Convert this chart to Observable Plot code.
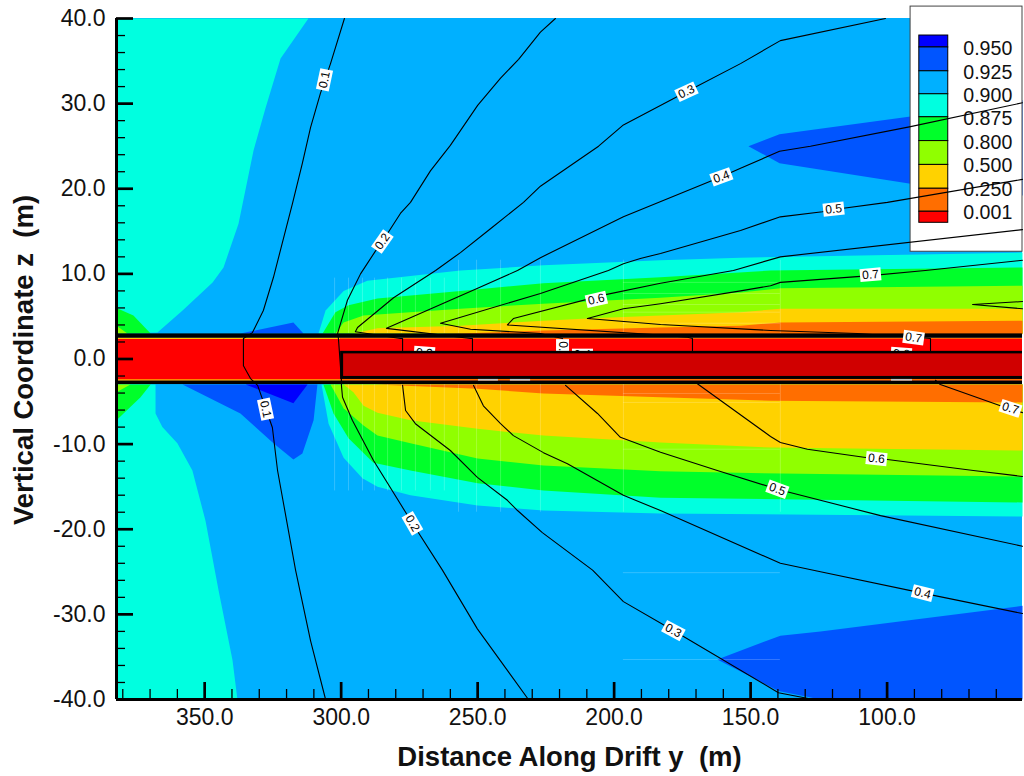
<!DOCTYPE html>
<html><head><meta charset="utf-8">
<style>html,body{margin:0;padding:0;background:#fff}svg text{white-space:pre}</style>
<script src="https://cdn.jsdelivr.net/npm/d3@7"></script>
<script src="https://cdn.jsdelivr.net/npm/@observablehq/plot@0.6"></script>
</head><body><div id="chart"></div>
<script>
const xDomain=[382.3,50.4], zDomain=[-40,40];
const xMajor=[350,300,250,200,150,100];
const xMinor=[380,370,360,340,330,320,310,290,280,270,260,240,230,220,210,190,180,170,160,140,130,120,110,90,80,70,60];
const zMajor=[-40,-30,-20,-10,0,10,20,30,40];
const zMinor=[-38,-36,-34,-32,-28,-26,-24,-22,-18,-16,-14,-12,-8,-6,-4,-2,2,4,6,8,12,14,16,18,22,24,26,28,32,34,36,38];

const legendLevels=["0.950","0.925","0.900","0.875","0.800","0.500","0.250","0.001"];
const legendColors=["#0000ff","#0055ff","#00b0ff","#00ffe0","#00ff2a","#90ff00","#ffd200","#ff6e00","#ff0000"];

// filled contour regions [y, z]
const cyanUpperLeft=[[382.3,40],[312,40],[322.2,35.3],[327.7,29.5],[332.1,24.5],[337.6,15.9],[343.1,10.75],[347.1,9],[358.1,5.7],[367.3,3.1],[382.3,3]];
const cyanLowerLeft=[[382.3,-3],[368,-3],[368,-6.4],[365.5,-8],[360,-9.9],[354.5,-13.1],[349.7,-19],[344.9,-27.2],[339.8,-35.4],[338,-40],[382.3,-40]];
const greenUpperLeft=[[382.3,6],[376.1,5.1],[369.8,3],[382.3,3]];
const limeUpperLeft=[[382.3,3.9],[378.3,3],[382.3,3]];
const greenLowerLeft=[[369.8,-3],[373.5,-4.5],[382.3,-7.2],[382.3,-3]];
const limeLowerLeft=[[382.3,-3.9],[377.2,-3],[382.3,-3]];
const blueLower=[[358.1,-3],[336.9,-6.4],[324.8,-9.9],[317.5,-11.8],[314.2,-11.1],[310.1,-7.2],[308.7,-3]];
const deepLower=[[335,-3],[317.5,-5.2],[312.3,-3]];
const blueUpper=[[336.9,3],[317.5,4.3],[313.8,3]];
const blueRightTop=[[150.8,25],[139.4,26.4],[91.4,28.5],[50.4,30.4],[50.4,19.2],[91.4,20.6],[139.4,23]];
const blueRightBottom=[[162.2,-35.3],[139.1,-32.5],[124.4,-32],[50.4,-29],[50.4,-40],[124.4,-40],[139.8,-39]];
const cyanUp=[[308.3,3],[305.7,5.7],[299.1,8],[290.4,9.2],[256.3,10.4],[225.9,11],[183,11.6],[153.7,11.9],[50.4,12.5],[50.4,3]];
const greenUp=[[306.8,3],[302.1,5.5],[297.3,6.3],[286.7,7.1],[256.3,8],[225.9,8.9],[183,9.6],[142.7,10.4],[50.4,10.75],[50.4,3]];
const limeUp=[[302.1,3],[299.1,4.3],[291.8,5.1],[256.3,5.9],[225.9,6.5],[183,7.2],[153.7,7.8],[139.1,8.3],[50.4,8.6],[50.4,3]];
const yellowUp=[[295.5,3],[286.7,3.6],[256.3,3.9],[225.9,4.5],[209.8,4.75],[183,5.1],[153.7,5.5],[139.1,5.9],[50.4,5.9],[50.4,3]];
const orangeUp=[[267.3,2.9],[256.3,3],[225.9,3.35],[183,3.7],[153.7,3.9],[139.1,4.3],[50.4,4.5],[50.4,2.9]];
const cyanLow=[[307.2,-3],[304.6,-7.6],[299.1,-11.6],[292.2,-14],[286.7,-15],[274.6,-16],[250,-17.2],[225.9,-17.8],[183,-18.15],[50.4,-18.5],[50.4,-3]];
const greenLow=[[306.5,-3],[302.8,-6.4],[297.3,-9.3],[288.2,-12.2],[274.6,-13.1],[250,-14.6],[225.9,-15.45],[183,-16.3],[50.4,-16.85],[50.4,-3]];
const limeLow=[[303.9,-3],[299.1,-5.8],[291.8,-7.8],[286.7,-9],[274.6,-9.9],[250,-11.7],[225.9,-12.5],[183,-13.2],[150,-13.4],[50.4,-13.8],[50.4,-3]];
const yellowLow=[[299.1,-3],[295.5,-3.9],[291.8,-5.5],[286.7,-6.3],[274.6,-7.2],[250,-8.2],[225.9,-9],[183,-9.8],[142.7,-10.4],[50.4,-10.75],[50.4,-3]];
const orangeLow=[[287.4,-3],[250,-3.5],[225.9,-4.05],[183,-4.5],[142.7,-4.9],[50.4,-5.1],[50.4,-3]];

// contour lines [y, z]
const line01=[[298.8,40],[303.9,34.7],[307.6,31.2],[311.2,27.2],[314.2,23],[317.8,18.3],[324.8,9.6],[328.5,5.7],[332.5,3.1],[335.8,2.4],[335.8,-0.8],[333.2,-2.3],[330.6,-3.1],[325.2,-8.05],[323.3,-13.1],[316.7,-24.8],[311.2,-33.1],[305.7,-40]];
const line02=[[221.5,40],[227,38.4],[235,35.2],[241.6,33],[250,29.8],[260,25.1],[267.3,22.1],[274.6,18.4],[278.3,17.1],[284.9,13.8],[287.4,12.7],[292.9,10],[297.7,6.9],[301.3,3],[301,2.4],[299.9,-2.5],[299.9,-3.1],[299.5,-4.5],[295.9,-7.2],[288.2,-11.9],[276.4,-18],[273.9,-19.3],[262.9,-24.8],[250.1,-31.7],[231.4,-40]];
const line03Up=[[100.6,40],[139.1,37.4],[153.7,34.7],[173.5,31.4],[196.6,27.5],[205.7,25],[227,20.3],[233.2,18.4],[245.3,15.3],[256.3,12.5],[265.4,10.4],[280.8,7.2],[294,3.7],[294.8,3.2],[278.3,2.4],[277.5,2.4],[277.5,1]];
const line03Low=[[277.5,-3.1],[276.4,-6.05],[272.8,-7.6],[260,-10.75],[250.1,-13.9],[239.1,-16.6],[235.4,-17.8],[226.3,-20.4],[207.9,-24.8],[196.6,-28.5],[178.3,-31.9],[139.8,-39.2],[127,-40]];
const line04Up=[[50.4,30.1],[91.4,27.3],[128.1,25],[139.4,24.4],[153.7,22.4],[160.7,21.4],[196.6,16.7],[227,11.9],[235.4,10.4],[250,8.3],[283.4,3.6],[252.6,2.4],[251.9,2.4],[251.9,1]];
const line04Low=[[251.5,-3.1],[247.9,-5.5],[241.6,-7.6],[236.9,-9],[225.9,-11],[217.1,-12.3],[196.6,-16],[192.2,-16.6],[183,-17.8],[139.1,-24],[124.4,-25],[87,-27.5],[50.4,-29.9]];
const line05Up=[[50.4,21.1],[99.9,18.4],[116,17.7],[123.7,17.3],[139.1,16.7],[153.7,15.1],[183,12.4],[190.4,11.8],[196.6,11.2],[202.1,10.4],[227,7.7],[263.6,4.2],[252.6,3.5],[227,3],[218.9,2.4],[218.9,1]];
const line05Low=[[217.8,-3.1],[206.1,-6.4],[197.7,-9.2],[183,-10.95],[162.2,-13.1],[140.2,-15.3],[102.4,-18.4],[50.4,-22]];
const line06Up=[[50.4,15.2],[139.1,12],[156.3,10.4],[183,8.9],[204,7.5],[236.9,4.75],[239.1,4],[183,2.8],[173.1,2.55],[171.3,2.4],[171.3,1]];
const line06Low=[[169.5,-2.9],[142.7,-9.1],[139.1,-9.8],[129.2,-10.6],[107.2,-11.6],[99.9,-11.8],[68.4,-13.1],[50.4,-13.8]];
const line07Up=[[50.4,11.6],[86,10.4],[106.1,9.8],[139.1,9],[142.7,8.6],[153.7,8],[183,6.5],[196.6,5.9],[209.8,4.75],[183,4.05],[142.7,3.35],[110.9,3],[90.3,2.55],[84.1,2.4],[84.1,1]];
const line07Low=[[82.3,-2.5],[80.5,-3],[58.5,-5.5],[50.4,-6.3]];
const line08=[[50.4,6.75],[68.7,6.4],[50.4,5.9]];

const labelText=["0.1","0.1","0.2","0.2","0.3","0.3","0.4","0.4","0.5","0.5","0.6","0.6","0.7","0.7","0.3","0.5","0.4","0.6"];
const labelY=[306.1,327.7,284.9,273.9,173.5,178.3,160.7,87,119.6,140.2,206.5,103.9,106.1,54.8,269.5,218.9,211.6,94.8];
const labelZ=[32.8,-5.9,13.8,-19.3,31.4,-31.9,21.4,-27.5,17.6,-15.3,7,-11.7,9.9,-5.8,0.7,1.1,0.45,0.6];
const labelAngle=[-78,78,-55,60,-25,28,-20,14,-6,20,-13,6,-5,18,4,90,0,4];

// faint mesh traces left in the original plot
const meshYNear=[302.4,297.3,292.2,287.8,283,277.9,272.8,267.3,262.2];
const meshYFar=[257,250.4,241.6,227,196.6,139.1];
const meshZUpper=[9,7.7,6.4,5.5,4.2];
const meshZLower=[-4.05,-5.1,-10.6,-25.1,-35.3];

const legendEdges=[38,36.6,33.8,31.1,28.4,25.6,22.8,20,17.3,16];
const legendTextZ=[36.5,33.65,30.9,28.25,25.4,22.7,19.85,17.2];
const sliverY=[[249.7,242.4],[238,230.6],[98.4,90.7]];

const labels=labelText.map((t,i)=>({t,y:labelY[i],z:labelZ[i],a:labelAngle[i]}));
const X=d=>d[0],Z=d=>d[1];
const poly=(pts,fill)=>Plot.line(pts,{x:X,y:Z,fill,stroke:"none",curve:"linear-closed"});
const cline=pts=>Plot.line(pts,{x:X,y:Z,stroke:"#000",strokeWidth:1.1,curve:"linear"});
const box=(x1,x2,z1,z2,fill,extra={})=>Plot.rect([0],{x1:()=>x1,x2:()=>x2,y1:()=>z1,y2:()=>z2,fill,...extra});
const barShape={draw(c,l){c.moveTo(0,0);c.lineTo(0,-l);}};
const labelMarks=ls=>[
  Plot.vector(ls,{x:"y",y:"z",rotate:d=>d.a+90,length:21,anchor:"middle",shape:barShape,stroke:"#fff",strokeWidth:13,strokeLinecap:"butt"}),
  Plot.text(ls,{x:"y",y:"z",text:"t",rotate:"a",fontSize:12,fontFamily:"Liberation Sans",fill:"#000",stroke:null})
];
const mesh={stroke:"#fff",strokeOpacity:0.2,strokeWidth:1};
const F="Liberation Sans";
const chart=Plot.plot({
  width:1024,height:776,marginLeft:116,marginRight:2,marginTop:18,marginBottom:77,
  style:{background:"transparent",overflow:"visible",fontFamily:F},
  x:{domain:xDomain,type:"linear",label:null},
  y:{domain:zDomain,type:"linear",label:null},
  marks:[
    box(382.3,50.4,-40,40,"#00b0ff"),
    poly(cyanUpperLeft,legendColors[3]),poly(cyanLowerLeft,legendColors[3]),
    poly(greenUpperLeft,legendColors[4]),poly(limeUpperLeft,legendColors[5]),
    poly(greenLowerLeft,legendColors[4]),poly(limeLowerLeft,legendColors[5]),
    poly(blueLower,legendColors[1]),poly(deepLower,legendColors[0]),poly(blueUpper,legendColors[1]),
    poly(blueRightTop,legendColors[1]),poly(blueRightBottom,legendColors[1]),
    poly(cyanUp,legendColors[3]),poly(greenUp,legendColors[4]),poly(limeUp,legendColors[5]),poly(yellowUp,legendColors[6]),poly(orangeUp,legendColors[7]),
    poly(cyanLow,legendColors[3]),poly(greenLow,legendColors[4]),poly(limeLow,legendColors[5]),poly(yellowLow,legendColors[6]),poly(orangeLow,legendColors[7]),
    // faint mesh traces
    Plot.ruleX(meshYNear,{y1:()=>3,y2:()=>9.5,...mesh}),
    Plot.ruleX(meshYFar,{y1:()=>3,y2:()=>11.6,...mesh}),
    Plot.ruleX(meshYNear,{y1:()=>-3,y2:()=>-15.5,...mesh}),
    Plot.ruleX(meshYFar,{y1:()=>-3,y2:()=>-18,...mesh}),
    Plot.ruleY([...meshZUpper,...meshZLower],{x1:()=>196.6,x2:()=>139.1,...mesh}),
    // legend panel
    box(91.4,50.4,12.6,41.4,"#fff",{stroke:"#444",strokeWidth:1}),
    ...legendColors.map((c,i)=>box(88.2,77.6,legendEdges[i+1],legendEdges[i],c,{stroke:"#000",strokeWidth:1})),
    Plot.text(legendLevels,{x:()=>72.1,y:(d,i)=>legendTextZ[i],text:d=>d,textAnchor:"start",fontSize:19.6,fontFamily:F,fill:"#111"}),
    // drift
    box(382.3,50.4,-2.6,2.45,"#ff0000"),
    box(382.3,300.2,2.3,2.45,"#ffd000"),box(300.2,50.4,2.3,2.45,"#ff6e00"),
    box(382.3,300.2,-2.6,-2.45,"#ffd000"),box(300.2,50.4,-2.6,-2.4,"#ff6e00"),
    // contours
    ...[line01,line02,line03Up,line03Low,line04Up,line04Low,line05Up,line05Low,line06Up,line06Low,line07Up,line07Low,line08].map(cline),
    ...labelMarks(labels),
    // drift walls
    box(382.3,50.4,2.45,2.95,"#000"),box(382.3,50.4,-3,-2.6,"#000"),
    box(300.2,50.4,-2.4,0.9,"#000"),box(299.1,50.4,-2.05,0.6,"#d00000"),
    ...sliverY.map(s=>box(s[0],s[1],-2.6,-2.4,"#c4c4c4")),
    ...labelMarks([{t:"0.7",y:90.3,z:2.5,a:8}]),
    // axes
    Plot.axisX({ticks:xMinor,tickSize:-10,tickFormat:()=>"",strokeWidth:1.3,label:null}),
    Plot.axisX({ticks:xMajor,tickSize:-17,tickPadding:26,strokeWidth:2.7,tickFormat:d=>d.toFixed(1),fontSize:23,fontFamily:F,fill:"#111",label:null}),
    Plot.axisY({ticks:zMinor,tickSize:-9,tickFormat:()=>"",strokeWidth:1.3,label:null}),
    Plot.axisY({ticks:zMajor,tickSize:-17,tickPadding:28,strokeWidth:2.7,tickFormat:d=>d.toFixed(1),fontSize:23,fontFamily:F,fill:"#111",label:null}),
    Plot.ruleX([382.3],{stroke:"#000",strokeWidth:3}),
    Plot.ruleY([-40],{stroke:"#000",strokeWidth:3}),
    Plot.text(["Distance Along Drift y  (m)"],{frameAnchor:"bottom",dy:66,fontSize:27.5,fontWeight:"bold",fontFamily:F,fill:"#111"}),
    Plot.text(["Vertical Coordinate z  (m)"],{frameAnchor:"left",dx:-92,dy:1,textAnchor:"middle",rotate:-90,fontSize:27.5,fontWeight:"bold",fontFamily:F,fill:"#111"})
  ]
});
document.getElementById("chart").appendChild(chart);
</script></body></html>
